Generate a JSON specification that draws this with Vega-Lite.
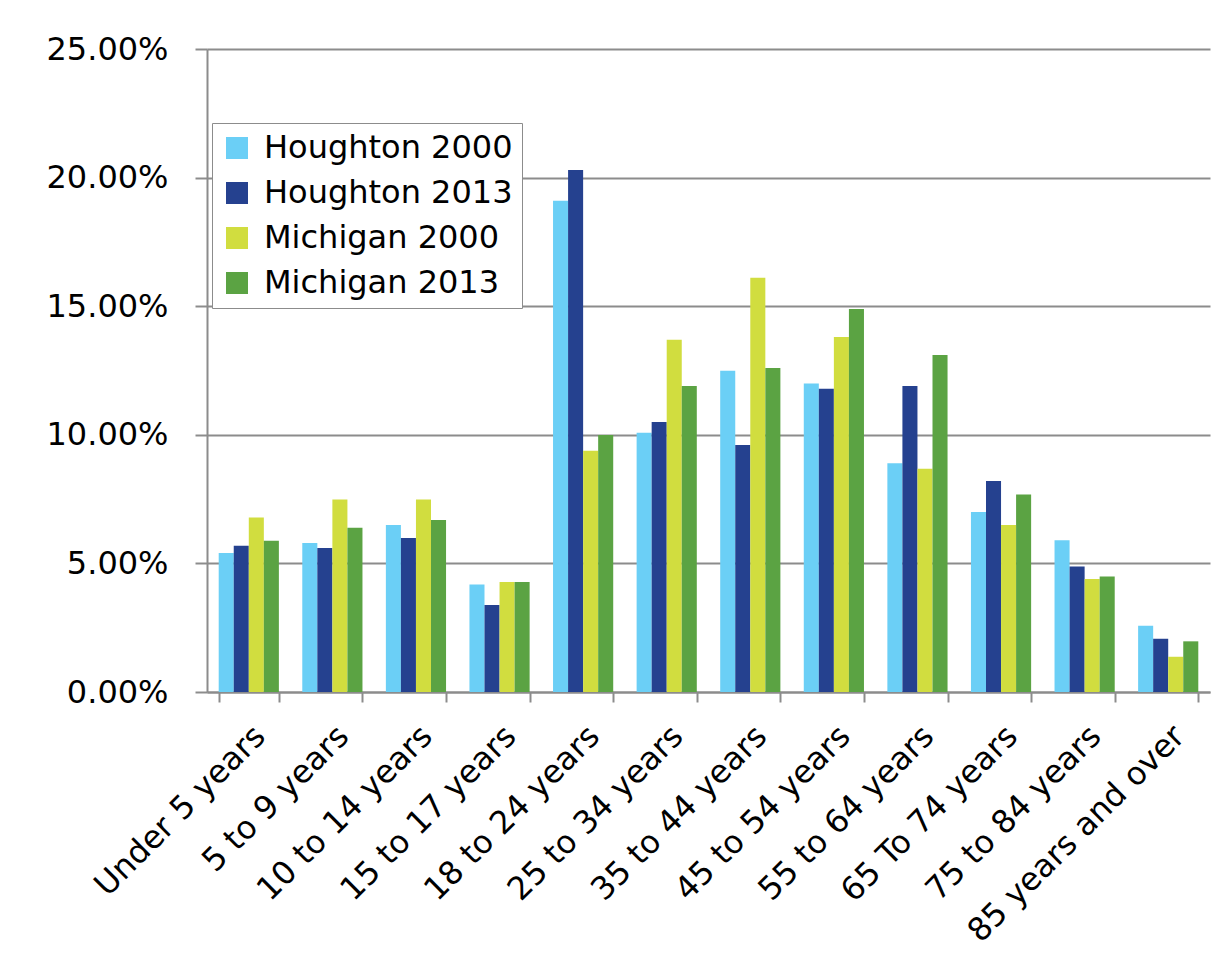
{
  "$schema": "https://vega.github.io/schema/vega-lite/v6.json",
  "width": 1003,
  "height": 643,
  "autosize": {"type": "none"},
  "padding": {"left": 207, "top": 49, "right": 21, "bottom": 261},
  "background": "white",
  "config": {"view": {"stroke": null}, "font": "DejaVu Sans"},
  "data": {
    "values": [
      {"age": "Under 5 years", "series": "Houghton 2000", "value": 0.0540},
      {"age": "Under 5 years", "series": "Houghton 2013", "value": 0.0569},
      {"age": "Under 5 years", "series": "Michigan 2000", "value": 0.0678},
      {"age": "Under 5 years", "series": "Michigan 2013", "value": 0.0588},
      {"age": "5 to 9 years", "series": "Houghton 2000", "value": 0.0579},
      {"age": "5 to 9 years", "series": "Houghton 2013", "value": 0.0560},
      {"age": "5 to 9 years", "series": "Michigan 2000", "value": 0.0748},
      {"age": "5 to 9 years", "series": "Michigan 2013", "value": 0.0639},
      {"age": "10 to 14 years", "series": "Houghton 2000", "value": 0.0649},
      {"age": "10 to 14 years", "series": "Houghton 2013", "value": 0.0599},
      {"age": "10 to 14 years", "series": "Michigan 2000", "value": 0.0748},
      {"age": "10 to 14 years", "series": "Michigan 2013", "value": 0.0669},
      {"age": "15 to 17 years", "series": "Houghton 2000", "value": 0.0418},
      {"age": "15 to 17 years", "series": "Houghton 2013", "value": 0.0338},
      {"age": "15 to 17 years", "series": "Michigan 2000", "value": 0.0428},
      {"age": "15 to 17 years", "series": "Michigan 2013", "value": 0.0428},
      {"age": "18 to 24 years", "series": "Houghton 2000", "value": 0.1910},
      {"age": "18 to 24 years", "series": "Houghton 2013", "value": 0.2030},
      {"age": "18 to 24 years", "series": "Michigan 2000", "value": 0.0938},
      {"age": "18 to 24 years", "series": "Michigan 2013", "value": 0.0999},
      {"age": "25 to 34 years", "series": "Houghton 2000", "value": 0.1008},
      {"age": "25 to 34 years", "series": "Houghton 2013", "value": 0.1050},
      {"age": "25 to 34 years", "series": "Michigan 2000", "value": 0.1370},
      {"age": "25 to 34 years", "series": "Michigan 2013", "value": 0.1190},
      {"age": "35 to 44 years", "series": "Houghton 2000", "value": 0.1249},
      {"age": "35 to 44 years", "series": "Houghton 2013", "value": 0.0960},
      {"age": "35 to 44 years", "series": "Michigan 2000", "value": 0.1611},
      {"age": "35 to 44 years", "series": "Michigan 2013", "value": 0.1260},
      {"age": "45 to 54 years", "series": "Houghton 2000", "value": 0.1199},
      {"age": "45 to 54 years", "series": "Houghton 2013", "value": 0.1179},
      {"age": "45 to 54 years", "series": "Michigan 2000", "value": 0.1380},
      {"age": "45 to 54 years", "series": "Michigan 2013", "value": 0.1489},
      {"age": "55 to 64 years", "series": "Houghton 2000", "value": 0.0889},
      {"age": "55 to 64 years", "series": "Houghton 2013", "value": 0.1190},
      {"age": "55 to 64 years", "series": "Michigan 2000", "value": 0.0868},
      {"age": "55 to 64 years", "series": "Michigan 2013", "value": 0.1310},
      {"age": "65 To 74 years", "series": "Houghton 2000", "value": 0.0700},
      {"age": "65 To 74 years", "series": "Houghton 2013", "value": 0.0820},
      {"age": "65 To 74 years", "series": "Michigan 2000", "value": 0.0649},
      {"age": "65 To 74 years", "series": "Michigan 2013", "value": 0.0768},
      {"age": "75 to 84 years", "series": "Houghton 2000", "value": 0.0590},
      {"age": "75 to 84 years", "series": "Houghton 2013", "value": 0.0488},
      {"age": "75 to 84 years", "series": "Michigan 2000", "value": 0.0439},
      {"age": "75 to 84 years", "series": "Michigan 2013", "value": 0.0449},
      {"age": "85 years and over", "series": "Houghton 2000", "value": 0.0258},
      {"age": "85 years and over", "series": "Houghton 2013", "value": 0.0207},
      {"age": "85 years and over", "series": "Michigan 2000", "value": 0.0137},
      {"age": "85 years and over", "series": "Michigan 2013", "value": 0.0197}
    ]
  },
  "mark": {"type": "bar"},
  "encoding": {
    "x": {
      "field": "age",
      "type": "nominal",
      "sort": ["Under 5 years", "5 to 9 years", "10 to 14 years", "15 to 17 years", "18 to 24 years", "25 to 34 years", "35 to 44 years", "45 to 54 years", "55 to 64 years", "65 To 74 years", "75 to 84 years", "85 years and over"],
      "scale": {"paddingInner": 0.28, "paddingOuter": 0.14},
      "axis": {
        "title": null,
        "labelAngle": -45,
        "labelFontSize": 32,
        "labelColor": "#000000",
        "labelLimit": 600,
        "labelDx": -8,
        "domainColor": "#8c8c8c",
        "domainWidth": 2,
        "tickColor": "#8c8c8c",
        "tickWidth": 2,
        "tickSize": 10,
        "tickBand": "extent",
        "labelPadding": 18
      }
    },
    "xOffset": {
      "field": "series",
      "sort": ["Houghton 2000", "Houghton 2013", "Michigan 2000", "Michigan 2013"]
    },
    "y": {
      "field": "value",
      "type": "quantitative",
      "scale": {"domain": [0, 0.25]},
      "axis": {
        "title": null,
        "format": ".2%",
        "values": [0, 0.05, 0.1, 0.15, 0.2, 0.25],
        "labelFontSize": 32,
        "labelColor": "#000000",
        "tickSize": 12,
        "labelPadding": 27,
        "grid": true,
        "gridColor": "#8c8c8c",
        "gridWidth": 2,
        "domainColor": "#8c8c8c",
        "domainWidth": 2,
        "tickColor": "#8c8c8c",
        "tickWidth": 2
      }
    },
    "color": {
      "field": "series",
      "type": "nominal",
      "scale": {
        "domain": ["Houghton 2000", "Houghton 2013", "Michigan 2000", "Michigan 2013"],
        "range": ["#6bcff6", "#25418f", "#d1dd3f", "#5ba343"]
      },
      "legend": {
        "title": null,
        "orient": "none",
        "legendX": 5,
        "legendY": 74,
        "strokeColor": "#8c8c8c",
        "fillColor": "white",
        "padding": 9,
        "rowPadding": 13,
        "symbolType": "square",
        "symbolSize": 484,
        "symbolStrokeWidth": 0,
        "symbolOpacity": 1,
        "labelFontSize": 32,
        "labelColor": "#000000",
        "labelOffset": 11,
        "labelLimit": 400
      }
    }
  }
}
